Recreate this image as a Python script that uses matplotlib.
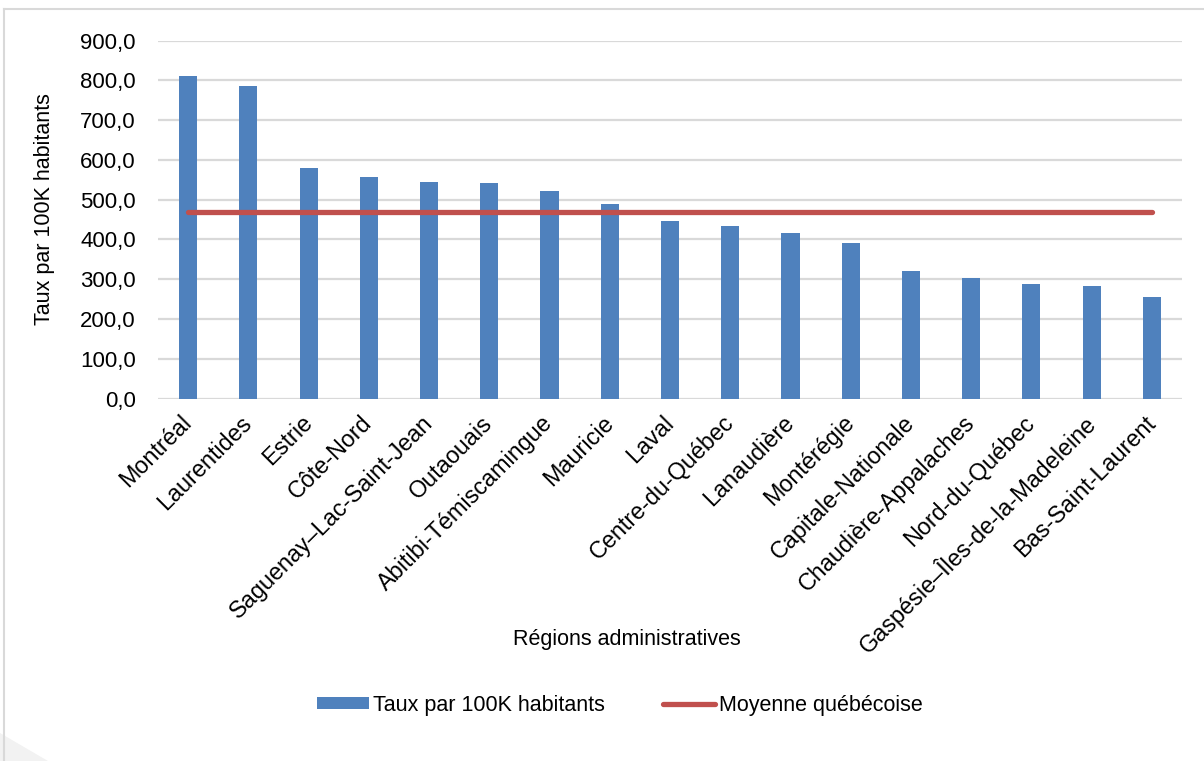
import matplotlib
matplotlib.use('Agg')
import matplotlib.pyplot as plt
from matplotlib.ticker import FuncFormatter, MultipleLocator
from matplotlib.lines import Line2D
from matplotlib.patches import Patch, Polygon
import numpy as np

plt.rcParams['font.family'] = ['Liberation Sans', 'DejaVu Sans']

# Données
regions = ['Montréal', 'Laurentides', 'Estrie', 'Côte-Nord',
           'Saguenay–Lac-Saint-Jean', 'Outaouais', 'Abitibi-Témiscamingue',
           'Mauricie', 'Laval', 'Centre-du-Québec', 'Lanaudière',
           'Montérégie', 'Capitale-Nationale', 'Chaudière-Appalaches',
           'Nord-du-Québec', 'Gaspésie–Îles-de-la-Madeleine', 'Bas-Saint-Laurent']
taux = [812.0, 784.5, 578.5, 556.0, 544.0, 543.0, 521.5, 489.5, 446.5,
        434.8, 417.2, 391.3, 319.4, 302.7, 288.5, 282.6, 254.2]
moyenne_qc = 468.5

bleu = '#4F81BD'
rouge = '#C0504D'
gris = '#D9D9D9'

W, H = 1204, 761
fig = plt.figure(figsize=(W / 100, H / 100), dpi=100)
ax = fig.add_axes([158 / W, 1 - 398.5 / H, 1024 / W, 358 / H])

x = np.arange(len(regions))
ax.bar(x, taux, width=0.3, color=bleu, zorder=2)
ax.plot(x, [moyenne_qc] * len(x), color=rouge, lw=3.8,
        solid_capstyle='round', zorder=3)

ax.set_xlim(-0.5, len(regions) - 0.5)
ax.set_ylim(0, 900)
ax.yaxis.set_major_locator(MultipleLocator(100))
ax.yaxis.set_major_formatter(FuncFormatter(lambda v, p: f'{v:.1f}'.replace('.', ',')))
ax.grid(axis='y', color=gris, lw=1.6, zorder=0)
ax.set_axisbelow(True)
for s in ax.spines.values():
    s.set_visible(False)

ax.tick_params(axis='y', length=0, pad=16, labelsize=16)
ax.tick_params(axis='x', length=0, pad=15, labelsize=16.8)
ax.set_xticks(x)
ax.set_xticklabels(regions, rotation=45, ha='right', va='center',
                   rotation_mode='anchor')

fig.text(45 / W, 1 - 209 / H, 'Taux par 100K habitants', rotation=90,
         ha='center', va='center', fontsize=15.5)
fig.text(627 / W, 1 - 640 / H, 'Régions administratives',
         ha='center', va='center', fontsize=15.5)

handles = [Patch(facecolor=bleu, edgecolor='none'),
           Line2D([], [], color=rouge, lw=3.8, solid_capstyle='round')]
fig.legend(handles, ['Taux par 100K habitants', 'Moyenne québécoise'],
           loc='center', bbox_to_anchor=(620 / W, 1 - 705 / H), ncol=2,
           frameon=False, fontsize=15.5, handlelength=2.4, handleheight=0.5,
           handletextpad=0.2, columnspacing=2.7)

# cadre clair autour du graphique
fig.add_artist(Line2D([4 / W, 1], [1 - 9 / H, 1 - 9 / H], color=gris, lw=1.5))
fig.add_artist(Line2D([4 / W, 4 / W], [0, 1 - 9 / H], color=gris, lw=1.5))
fig.add_artist(Polygon([[0, 0], [0, 28 / H], [48 / W, 0]], closed=True,
                       facecolor='#F2F2F2', edgecolor='none',
                       transform=fig.transFigure))

fig.savefig('out.png', dpi=100)
